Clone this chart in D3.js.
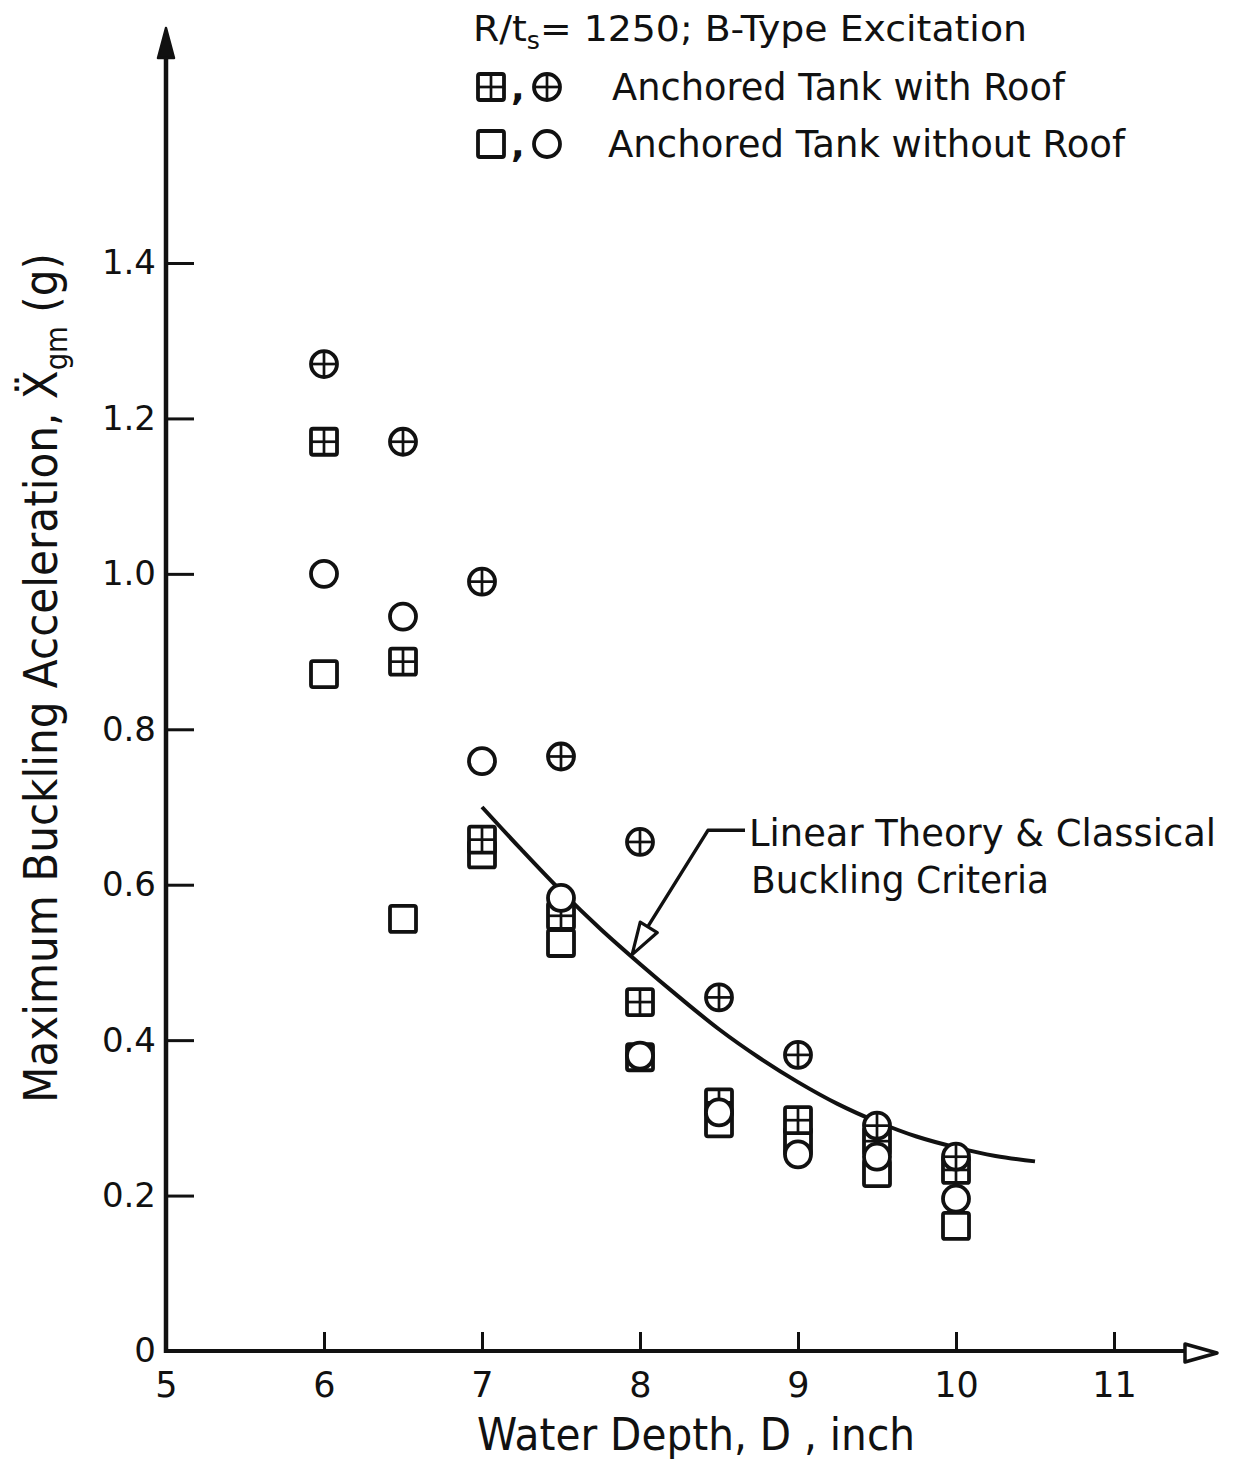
<!DOCTYPE html>
<html>
<head>
<meta charset="utf-8">
<script src="https://cdn.jsdelivr.net/npm/d3@7"></script>
<style>
  html, body { margin: 0; padding: 0; background: #fff; }
  svg { display: block; }
  text { font-family: "DejaVu Sans", sans-serif; fill: #111; }
</style>
</head>
<body>
<svg id="chart" width="1236" height="1462"></svg>
<script>
// ---------------- data ----------------
const depths = [6, 6.5, 7, 7.5, 8, 8.5, 9, 9.5, 10];
// Anchored tank with roof
const roofCircle = [1.27, 1.17, 0.99, 0.765, 0.655, 0.455, 0.381, 0.29, 0.25];   // ⊕
const roofSquare = [1.17, 0.887, 0.658, 0.56, 0.449, 0.32, 0.297, 0.27, 0.233];  // ⊞
// Anchored tank without roof
const noRoofCircle = [1.0, 0.945, 0.759, 0.583, 0.38, 0.307, 0.253, 0.25, 0.196]; // ○
const noRoofSquare = [0.871, 0.556, 0.639, 0.525, 0.378, 0.293, 0.27, 0.229, 0.161]; // □
// Linear theory & classical buckling criteria curve
const theoryX = [7.0, 7.25, 7.5, 7.75, 8.0, 8.25, 8.5, 8.75, 9.0, 9.25, 9.5, 9.75, 10.0, 10.25, 10.5];
const theoryY = [0.70, 0.645, 0.592, 0.543, 0.498, 0.455, 0.414, 0.378, 0.346, 0.318, 0.295, 0.276, 0.262, 0.251, 0.244];
const xTicks = [5, 6, 7, 8, 9, 10, 11];
const xTickLabels = ["5", "6", "7", "8", "9", "10", "11"];
const yTicks = [0, 0.2, 0.4, 0.6, 0.8, 1.0, 1.2, 1.4];
const yTickLabels = ["0", "0.2", "0.4", "0.6", "0.8", "1.0", "1.2", "1.4"];
// annotation anchor points (data units)
const annoTip = [7.95, 0.51];
const annoElbow = [8.43, 0.67];
const annoTextX = 8.69;

// ---------------- setup ----------------
const svg = d3.select("#chart");
svg.append("rect").attr("width", 1236).attr("height", 1462).attr("fill", "#fff");
const ink = "#111";

const x = d3.scaleLinear().domain([5, 11]).range([166, 1114]);
const y = d3.scaleLinear().domain([0, 1.4]).range([1351, 263]);

// ---------------- axes ----------------
const yAxis = d3.axisLeft(y).tickValues(yTicks)
  .tickFormat((d, i) => yTickLabels[i]).tickSizeInner(-28).tickSizeOuter(0).tickPadding(10);
const gy = svg.append("g").attr("transform", `translate(${x(5)},0)`).call(yAxis);
gy.select(".domain").remove();
gy.selectAll(".tick line").attr("stroke", ink).attr("stroke-width", 3);
gy.selectAll(".tick text").attr("font-size", 34).attr("fill", ink)
  .style("font-family", '"DejaVu Sans", sans-serif');

const xAxis = d3.axisBottom(x).tickValues(xTicks)
  .tickFormat((d, i) => xTickLabels[i]).tickSizeInner(-19).tickSizeOuter(0).tickPadding(21);
const gx = svg.append("g").attr("transform", `translate(0,${y(0)})`).call(xAxis);
gx.select(".domain").remove();
gx.selectAll(".tick line").attr("stroke", ink).attr("stroke-width", 3);
gx.selectAll(".tick text").attr("font-size", 35).attr("fill", ink)
  .style("font-family", '"DejaVu Sans", sans-serif');

// axis lines with arrows
const x0 = x(5), y0 = y(0);
svg.append("line").attr("x1", x0).attr("x2", x0).attr("y1", y0 + 2).attr("y2", 50)
  .attr("stroke", ink).attr("stroke-width", 4.5);
svg.append("path").attr("d", `M${x0},28 L${x0 - 8},58 L${x0 + 8},58 Z`)
  .attr("fill", ink).attr("stroke", ink).attr("stroke-width", 2.5).attr("stroke-linejoin", "round");
svg.append("line").attr("x1", x0 - 2).attr("x2", 1190).attr("y1", y0).attr("y2", y0)
  .attr("stroke", ink).attr("stroke-width", 4);
svg.append("path").attr("d", `M1185,1344 L1217,1353 L1185,1362 Z`)
  .attr("fill", "#fff").attr("stroke", ink).attr("stroke-width", 3.5).attr("stroke-linejoin", "round");

// ---------------- theory curve ----------------
const line = d3.line().x(d => x(d[0])).y(d => y(d[1])).curve(d3.curveCatmullRom);
svg.append("path").datum(theoryX.map((v, i) => [v, theoryY[i]]))
  .attr("d", line).attr("fill", "none").attr("stroke", ink).attr("stroke-width", 4);

// ---------------- markers ----------------
const R = 13;
function drawMarker(g, type) {
  const sw = 3.8;
  if (type === "sq" || type === "sqplus") {
    g.append("rect").attr("x", -R).attr("y", -R).attr("width", 2 * R).attr("height", 2 * R)
      .attr("rx", 2).attr("fill", "#fff").attr("stroke", ink).attr("stroke-width", sw);
  } else {
    g.append("circle").attr("r", R).attr("fill", "#fff").attr("stroke", ink).attr("stroke-width", sw);
  }
  if (type === "sqplus" || type === "cplus") {
    g.append("line").attr("x1", -R).attr("x2", R).attr("stroke", ink).attr("stroke-width", 2.7);
    g.append("line").attr("y1", -R).attr("y2", R).attr("stroke", ink).attr("stroke-width", 2.7);
  }
}
const seriesList = [
  { vals: noRoofSquare, type: "sq" },
  { vals: roofSquare, type: "sqplus" },
  { vals: noRoofCircle, type: "circ" },
  { vals: roofCircle, type: "cplus" }
];
seriesList.forEach(s => {
  svg.append("g").selectAll("g").data(depths.map((d, i) => [d, s.vals[i]])).join("g")
    .attr("transform", d => `translate(${x(d[0])},${y(d[1])})`)
    .each(function () { drawMarker(d3.select(this), s.type); });
});

// ---------------- annotation ----------------
const tip = [x(annoTip[0]), y(annoTip[1])];
const elbow = [x(annoElbow[0]), y(annoElbow[1])];
const tx = x(annoTextX);
svg.append("path")
  .attr("d", `M${tx - 4},${elbow[1]} L${elbow[0]},${elbow[1]} L${tip[0] + 12},${tip[1] - 22}`)
  .attr("fill", "none").attr("stroke", ink).attr("stroke-width", 3.4).attr("stroke-linejoin", "round");
{
  const dx = tip[0] - elbow[0], dy = tip[1] - elbow[1];
  const L = Math.hypot(dx, dy), ux = dx / L, uy = dy / L;
  const bx = tip[0] - ux * 32, by = tip[1] - uy * 32;
  const px = -uy * 10, py = ux * 10;
  svg.append("path")
    .attr("d", `M${tip[0]},${tip[1]} L${bx + px},${by + py} L${bx - px},${by - py} Z`)
    .attr("fill", "#fff").attr("stroke", ink).attr("stroke-width", 3.2).attr("stroke-linejoin", "round");
}
svg.append("text").attr("x", tx).attr("y", elbow[1] + 16).attr("font-size", 37)
  .attr("textLength", 467).attr("lengthAdjust", "spacingAndGlyphs")
  .text("Linear Theory & Classical");
svg.append("text").attr("x", tx + 2).attr("y", elbow[1] + 63).attr("font-size", 37)
  .attr("textLength", 298).attr("lengthAdjust", "spacingAndGlyphs")
  .text("Buckling Criteria");

// ---------------- legend ----------------
const title = svg.append("text").attr("x", 473).attr("y", 41).attr("font-size", 36)
  .attr("textLength", 554).attr("lengthAdjust", "spacingAndGlyphs");
title.append("tspan").text("R/t");
title.append("tspan").attr("font-size", 24).attr("dy", 8).text("s");
title.append("tspan").attr("dy", -8).text("= 1250; B-Type Excitation");

const legendRows = [
  { types: ["sqplus", "cplus"], label: "Anchored Tank with Roof", y: 87, tx: 612, tl: 453 },
  { types: ["sq", "circ"], label: "Anchored Tank without Roof", y: 144, tx: 608, tl: 517 }
];
legendRows.forEach(r => {
  drawMarker(svg.append("g").attr("transform", `translate(491,${r.y})`), r.types[0]);
  drawMarker(svg.append("g").attr("transform", `translate(547,${r.y})`), r.types[1]);
  svg.append("text").attr("x", 511).attr("y", r.y + 13).attr("font-size", 36).attr("font-weight", "bold").text(",");
  svg.append("text").attr("x", r.tx).attr("y", r.y + 13).attr("font-size", 37)
    .attr("textLength", r.tl).attr("lengthAdjust", "spacingAndGlyphs").text(r.label);
});

// ---------------- axis titles ----------------
svg.append("text").attr("x", 696).attr("y", 1450).attr("font-size", 44).attr("text-anchor", "middle")
  .attr("textLength", 438).attr("lengthAdjust", "spacingAndGlyphs")
  .text("Water Depth, D , inch");

const yt = svg.append("text").attr("transform", "translate(57,678) rotate(-90)")
  .attr("font-size", 46).attr("text-anchor", "middle")
  .attr("textLength", 850).attr("lengthAdjust", "spacingAndGlyphs");
yt.append("tspan").text("Maximum Buckling Acceleration, \u1E8C");
yt.append("tspan").attr("font-size", 30).attr("dy", 10).text("gm");
yt.append("tspan").attr("dy", -10).text(" (g)");
</script>
</body>
</html>
